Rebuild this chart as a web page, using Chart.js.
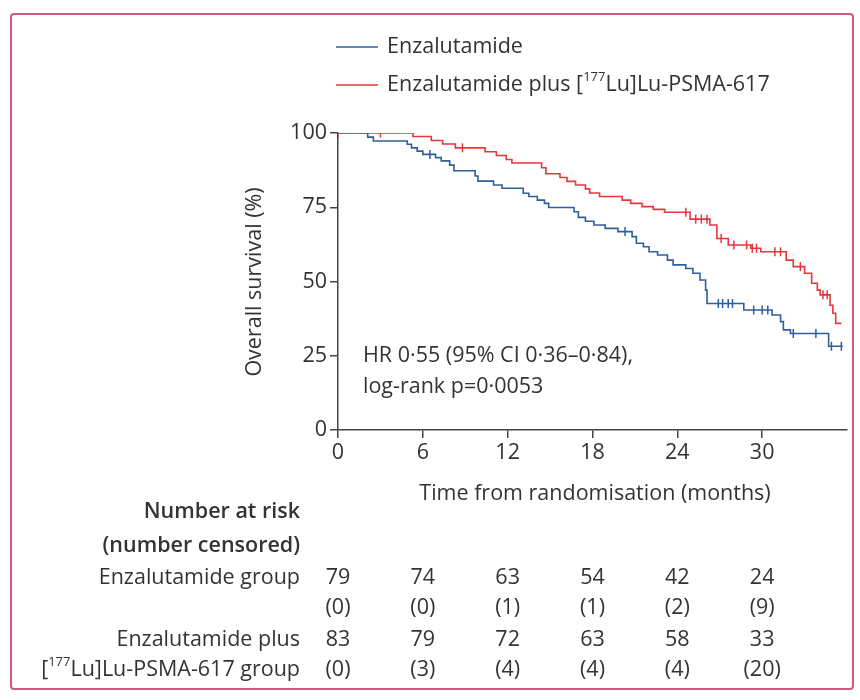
<!DOCTYPE html>
<html>
<head>
<meta charset="utf-8">
<script src="https://cdn.jsdelivr.net/npm/chart.js@4"></script>
<style>
  html, body { margin: 0; padding: 0; background: #fff; }
  #wrap { position: relative; width: 860px; height: 700px; }
</style>
</head>
<body>
<div id="wrap"><canvas id="km"></canvas></div>
<script>
const FONT = '"Open Sans", "Liberation Sans", sans-serif';
const FS = 21.5;
const TEXT = '#333333';
const BLUE = '#2f5e9c';
const RED = '#e8363c';

// Kaplan-Meier steps: time of each drop (months) and survival (%) after it
const enzaTimes = [0, 2.1, 2.5, 4.9, 5.2, 5.6, 6.0, 6.9, 7.3, 7.9, 8.2, 9.7, 9.9, 11.0, 11.6, 13.1, 13.5, 14.1, 14.6, 14.9,
  16.7, 17.0, 17.5, 18.1, 18.9, 19.8, 20.8, 21.1, 21.6, 22.0, 22.6, 23.3, 23.7, 24.6, 25.1, 25.6, 26.0, 26.1,
  28.7, 30.7, 31.3, 31.5, 32.0, 34.7, 35.7];
const enzaSurv = [100, 98.6, 97.3, 96.2, 95.0, 93.9, 92.8, 91.7, 90.6, 89.2, 87.3, 85.5, 83.8, 82.5, 81.4, 79.7, 78.6, 77.4, 76.3, 74.9,
  73.5, 71.6, 70.3, 69.0, 67.9, 66.8, 65.1, 62.9, 61.7, 60.0, 58.9, 57.2, 55.6, 54.4, 52.8, 50.5, 47.1, 42.6,
  40.4, 38.7, 36.5, 33.7, 32.5, 28.2, 28.2];
const enzaCensored = [6.5, 20.3, 26.9, 27.2, 27.6, 27.9, 29.4, 30.0, 30.4, 32.2, 33.8, 34.9, 35.6];

const lutTimes = [0, 5.3, 6.6, 7.4, 8.3, 10.4, 11.2, 11.9, 12.3, 14.4, 14.7, 15.7, 16.2, 16.8, 17.5, 17.8, 18.5, 20.1, 20.7,
  21.5, 22.3, 23.1, 24.9, 26.3, 26.8, 27.6, 29.2, 29.9, 31.7, 32.2, 33.0, 33.5, 33.9, 34.1, 34.8, 35.0, 35.2, 35.6];
const lutSurv = [100, 98.8, 97.5, 96.3, 95.0, 93.7, 92.4, 91.1, 89.9, 88.3, 86.3, 85.0, 83.7, 82.5, 81.2, 79.8, 78.6, 77.4, 76.3,
  75.2, 74.3, 73.3, 71.0, 69.0, 64.5, 62.3, 61.2, 60.0, 57.2, 55.0, 52.8, 49.4, 47.1, 45.5, 42.0, 39.3, 35.9, 35.9];
const lutCensored = [0, 3.0, 8.8, 24.6, 25.3, 25.7, 26.1, 27.1, 28.0, 28.9, 29.3, 29.6, 30.9, 31.3, 32.7, 34.3, 34.6];

// axis ticks
const xTicks = [0, 6, 12, 18, 24, 30];
const yTicks = [0, 25, 50, 75, 100];

// number at risk table
const riskTimes = [0, 6, 12, 18, 24, 30];
const enzaAtRisk = [79, 74, 63, 54, 42, 24];
const enzaCensNum = [0, 0, 1, 1, 2, 9];
const lutAtRisk = [83, 79, 72, 63, 58, 33];
const lutCensNum = [0, 3, 4, 4, 4, 20];

function steps(times, surv) {
  return times.map((t, i) => ({ x: t, y: surv[i] }));
}
function survAt(times, surv, t) {
  let s = surv[0];
  for (let i = 0; i < times.length; i++) { if (times[i] <= t) s = surv[i]; }
  return s;
}
function marks(cens, times, surv) {
  return cens.map(t => ({ x: t, y: survAt(times, surv, t) }));
}

// draws text pieces, some of them superscript
function drawParts(ctx, parts, x, y, align, size, weight) {
  const big = (weight || '') + ' ' + size + 'px ' + FONT;
  const small = (weight || '') + ' ' + Math.round(size * 0.6) + 'px ' + FONT;
  let w = 0;
  parts.forEach(p => { ctx.font = p.sup ? small : big; w += ctx.measureText(p.t).width; });
  let cx = align === 'right' ? x - w : x;
  ctx.textAlign = 'left';
  parts.forEach(p => {
    ctx.font = p.sup ? small : big;
    ctx.fillText(p.t, cx, p.sup ? y - size * 0.38 : y);
    cx += ctx.measureText(p.t).width;
  });
}

const extras = {
  id: 'extras',
  afterDraw(chart) {
    const ctx = chart.ctx;
    const xs = chart.scales.x;
    ctx.save();
    // frame
    ctx.strokeStyle = '#cf5a80';
    ctx.lineWidth = 2;
    ctx.beginPath();
    ctx.roundRect(11, 14, 842, 675, 3);
    ctx.stroke();

    ctx.fillStyle = TEXT;
    ctx.textBaseline = 'middle';

    // legend
    ctx.lineWidth = 1.6;
    ctx.strokeStyle = BLUE;
    ctx.beginPath(); ctx.moveTo(336, 47); ctx.lineTo(378, 47); ctx.stroke();
    ctx.strokeStyle = RED;
    ctx.beginPath(); ctx.moveTo(336, 85); ctx.lineTo(378, 85); ctx.stroke();
    drawParts(ctx, [{ t: 'Enzalutamide' }], 387, 47, 'left', FS);
    drawParts(ctx, [{ t: 'Enzalutamide plus [' }, { t: '177', sup: true }, { t: 'Lu]Lu-PSMA-617' }], 387, 85, 'left', FS);

    // axis titles
    ctx.font = FS + 'px ' + FONT;
    ctx.textAlign = 'center';
    ctx.fillText('Time from randomisation (months)', 595, 494);
    ctx.save();
    ctx.translate(255, 282);
    ctx.rotate(-Math.PI / 2);
    ctx.fillText('Overall survival (%)', 0, 0);
    ctx.restore();

    // hazard ratio
    ctx.textAlign = 'left';
    ctx.fillText('HR 0\u00b755 (95% CI 0\u00b736\u20130\u00b784),', 363, 356);
    ctx.fillText('log-rank p=0\u00b70053', 363, 387);

    // number at risk table
    drawParts(ctx, [{ t: 'Number at risk' }], 300, 512, 'right', FS, '600');
    drawParts(ctx, [{ t: '(number censored)' }], 300, 546, 'right', FS, '600');
    drawParts(ctx, [{ t: 'Enzalutamide group' }], 300, 578, 'right', FS);
    drawParts(ctx, [{ t: 'Enzalutamide plus' }], 300, 640, 'right', FS);
    drawParts(ctx, [{ t: '[' }, { t: '177', sup: true }, { t: 'Lu]Lu-PSMA-617 group' }], 300, 670, 'right', FS);
    ctx.font = FS + 'px ' + FONT;
    ctx.textAlign = 'center';
    riskTimes.forEach((t, i) => {
      const px = xs.getPixelForValue(t);
      ctx.fillText(String(enzaAtRisk[i]), px, 578);
      ctx.fillText('(' + enzaCensNum[i] + ')', px, 608);
      ctx.fillText(String(lutAtRisk[i]), px, 640);
      ctx.fillText('(' + lutCensNum[i] + ')', px, 670);
    });
    ctx.restore();
  }
};

const censorStyle = {
  showLine: false,
  pointStyle: 'line',
  rotation: 90,
  pointRadius: 4.5,
  pointHoverRadius: 4.5,
  borderWidth: 1.5
};

new Chart(document.getElementById('km'), {
  type: 'line',
  data: {
    datasets: [
      { data: marks(lutCensored, lutTimes, lutSurv), borderColor: RED, backgroundColor: RED, ...censorStyle },
      { data: steps(lutTimes, lutSurv), borderColor: RED, borderWidth: 1.6, stepped: 'before', pointRadius: 0, fill: false },
      { data: marks(enzaCensored, enzaTimes, enzaSurv), borderColor: BLUE, backgroundColor: BLUE, ...censorStyle },
      { data: steps(enzaTimes, enzaSurv), borderColor: BLUE, borderWidth: 1.6, stepped: 'before', pointRadius: 0, fill: false }
    ]
  },
  options: {
    responsive: true,
    maintainAspectRatio: false,
    animation: false,
    layout: { padding: { left: 278, top: 133, right: 13, bottom: 200 }, autoPadding: false },
    plugins: { legend: { display: false }, tooltip: { enabled: false } },
    scales: {
      x: {
        type: 'linear', min: 0, max: 36,
        afterBuildTicks: axis => { axis.ticks = xTicks.map(v => ({ value: v })); },
        afterFit: axis => { axis.height = 70; },
        ticks: { color: TEXT, font: { family: FONT, size: FS }, padding: 2 },
        grid: { drawOnChartArea: false, drawTicks: true, tickLength: 8, color: '#444', lineWidth: 1.5 },
        border: { display: true, color: '#444', width: 1.5 }
      },
      y: {
        type: 'linear', min: 0, max: 100,
        afterBuildTicks: axis => { axis.ticks = yTicks.map(v => ({ value: v })); },
        afterFit: axis => { axis.width = 60; },
        ticks: { color: TEXT, font: { family: FONT, size: FS }, padding: 3 },
        grid: { drawOnChartArea: false, drawTicks: true, tickLength: 8, color: '#444', lineWidth: 1.5 },
        border: { display: true, color: '#444', width: 1.5 }
      }
    }
  },
  plugins: [extras]
});
</script>
</body>
</html>
